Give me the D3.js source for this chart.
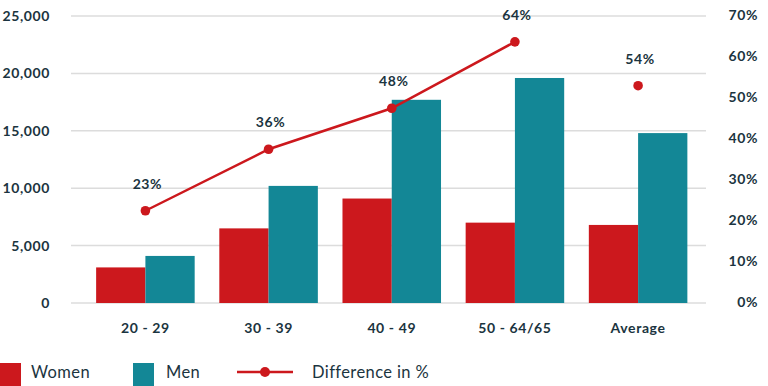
<!DOCTYPE html>
<html lang="en">
<head>
<meta charset="UTF-8">
<title>Women vs Men</title>
<style>
  body { margin: 0; background: #fff; }
  svg { display: block; font-family: Lato, "Open Sans", sans-serif; }
  .tick-label { font-size: 14px; font-weight: 700; fill: #1b3440; letter-spacing: 0.6px; }
  .legend text { font-size: 16.5px; fill: #1b3440; letter-spacing: 0.4px; }
</style>
</head>
<body>
<script src="https://d3js.org/d3.v7.min.js"></script>
<script>
const width = 768;
const height = 386;

// data
const categories = ["20 - 29", "30 - 39", "40 - 49", "50 - 64/65", "Average"];
const women = [3100, 6500, 9100, 7000, 6800];
const men = [4100, 10200, 17700, 19600, 14800];
const diff = [22.5, 37.5, 47.5, 63.7, 53];
const diffLabels = ["23%", "36%", "48%", "64%", "54%"];
const leftTicks = [0, 5000, 10000, 15000, 20000, 25000];
const rightTicks = [0, 10, 20, 30, 40, 50, 60, 70];

const red = "#cc181d";
const teal = "#138796";

const svg = d3.select("body").append("svg").attr("width", width).attr("height", height);

const x = d3.scaleBand().domain(categories).range([71.5, 712]).padding(0.2);
const xs = d3.scaleBand().domain(["w", "m"]).range([0, x.bandwidth()]);
const y = d3.scaleLinear().domain([0, 25000]).range([303, 16]);
const y2 = d3.scaleLinear().domain([0, 70]).range([303, 16]);

// gridlines
svg.append("g").selectAll("line")
  .data(leftTicks)
  .join("line")
  .attr("x1", 71).attr("x2", 706)
  .attr("y1", d => y(d)).attr("y2", d => y(d))
  .attr("stroke", "#dcdcdc").attr("stroke-width", 1.5);

// left axis labels
svg.append("g").selectAll("text")
  .data(leftTicks)
  .join("text")
  .attr("class", "tick-label")
  .attr("x", 50).attr("y", d => y(d)).attr("dy", "0.35em")
  .attr("text-anchor", "end")
  .text(d => d3.format(",")(d));

// right axis labels
svg.append("g").selectAll("text")
  .data(rightTicks)
  .join("text")
  .attr("class", "tick-label")
  .attr("x", 758).attr("y", d => y2(d) - 1).attr("dy", "0.35em")
  .attr("text-anchor", "end")
  .text(d => d + "%");

// bars
const groups = svg.append("g").selectAll("g")
  .data(categories)
  .join("g")
  .attr("transform", d => `translate(${x(d)},0)`);

groups.append("rect")
  .attr("x", xs("w")).attr("width", xs.bandwidth())
  .attr("y", (d, i) => y(women[i]))
  .attr("height", (d, i) => y(0) - y(women[i]))
  .attr("fill", red);

groups.append("rect")
  .attr("x", xs("m")).attr("width", xs.bandwidth())
  .attr("y", (d, i) => y(men[i]))
  .attr("height", (d, i) => y(0) - y(men[i]))
  .attr("fill", teal);

// x labels
svg.append("g").selectAll("text")
  .data(categories)
  .join("text")
  .attr("class", "tick-label")
  .attr("x", d => x(d) + x.bandwidth() / 2)
  .attr("y", 333)
  .attr("text-anchor", "middle")
  .text(d => d);

// difference line (first four age groups only, average stands alone)
const cx = (d, i) => x(categories[i]) + x.bandwidth() / 2;
const line = d3.line()
  .x((d, i) => cx(d, i))
  .y(d => y2(d));

svg.append("path")
  .datum(diff.slice(0, 4))
  .attr("d", line)
  .attr("fill", "none")
  .attr("stroke", red)
  .attr("stroke-width", 2.5);

svg.append("g").selectAll("circle")
  .data(diff)
  .join("circle")
  .attr("cx", cx)
  .attr("cy", d => y2(d))
  .attr("r", 4.8)
  .attr("fill", red);

svg.append("g").selectAll("text")
  .data(diff)
  .join("text")
  .attr("class", "tick-label")
  .attr("x", (d, i) => cx(d, i) + 2)
  .attr("y", d => y2(d) - 22)
  .attr("text-anchor", "middle")
  .text((d, i) => diffLabels[i]);

// legend
const legend = svg.append("g").attr("class", "legend");
legend.append("rect").attr("x", 0).attr("y", 363).attr("width", 21).attr("height", 23).attr("fill", red);
legend.append("text").attr("x", 31).attr("y", 378).text("Women");
legend.append("rect").attr("x", 133).attr("y", 363).attr("width", 21).attr("height", 23).attr("fill", teal);
legend.append("text").attr("x", 166).attr("y", 378).text("Men");
legend.append("line").attr("x1", 237).attr("x2", 293).attr("y1", 372).attr("y2", 372)
  .attr("stroke", red).attr("stroke-width", 2.5);
legend.append("circle").attr("cx", 265).attr("cy", 372).attr("r", 5).attr("fill", red);
legend.append("text").attr("x", 312).attr("y", 378).text("Difference in %");
</script>
</body>
</html>
